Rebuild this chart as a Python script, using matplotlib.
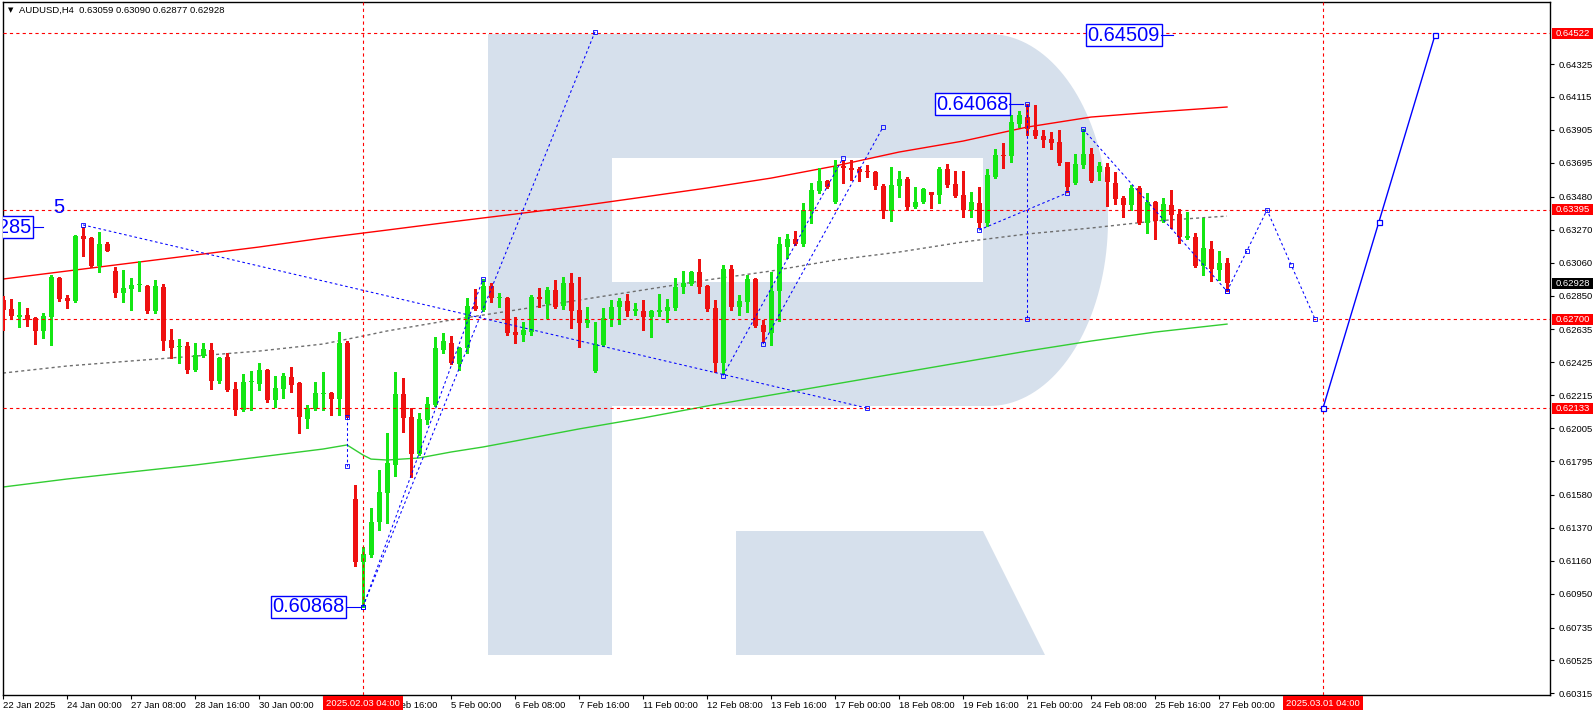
import matplotlib
matplotlib.use("Agg")
import matplotlib.pyplot as plt
import numpy as np
from matplotlib.patches import Rectangle, Polygon
from matplotlib.transforms import IdentityTransform

plt.rcParams['font.family'] = ['Liberation Sans', 'DejaVu Sans']
plt.rcParams['lines.scale_dashes'] = False

# ---------------- data ----------------
symbol = "AUDUSD,H4"
first_bar = -8          # bar index of first candle (24 Jan 00:00 = bar 0)

opens = [0.62821, 0.62764, 0.62713, 0.62726, 0.62706, 0.62624, 0.62713, 0.62961,
         0.62834, 0.62815, 0.63229, 0.63216, 0.63038, 0.63178, 0.63006, 0.62866, 0.62891, 0.62917,
         0.62910, 0.62751, 0.62904, 0.62566, 0.62522, 0.62528, 0.62375, 0.62464, 0.62503, 0.62305,
         0.62458, 0.62254, 0.62121, 0.62299, 0.62286, 0.62375, 0.62184, 0.62254, 0.62331, 0.62293,
         0.62064, 0.62127, 0.62222, 0.62229, 0.62191, 0.62547, 0.61554, 0.61152, 0.61197, 0.61407,
         0.61592, 0.61770, 0.62222, 0.62076, 0.61840, 0.62057, 0.62152, 0.62503, 0.62547, 0.62413,
         0.62515, 0.62783, 0.62757, 0.62910, 0.62834, 0.62834, 0.62617, 0.62598, 0.62617, 0.62840,
         0.62796, 0.62885, 0.62783, 0.62930, 0.62757, 0.62675, 0.62369, 0.62534, 0.62700, 0.62777,
         0.62815, 0.62751, 0.62751, 0.62713, 0.62745, 0.62751, 0.62770, 0.62904, 0.62923, 0.62999,
         0.62910, 0.62770, 0.62420, 0.63019, 0.62777, 0.62808, 0.62955, 0.62662, 0.62611, 0.62879,
         0.63159, 0.63210, 0.63178, 0.63389, 0.63516, 0.63579, 0.63446, 0.63675, 0.63662, 0.63656,
         0.63643, 0.63637, 0.63547, 0.63389, 0.63547, 0.63592, 0.63414, 0.63446, 0.63509, 0.63490,
         0.63656, 0.63560, 0.63490, 0.63395, 0.63439, 0.63312, 0.63605, 0.63745, 0.63739, 0.63942,
         0.63987, 0.63904, 0.63866, 0.63847, 0.63828, 0.63701, 0.63567, 0.63681, 0.63752, 0.63637,
         0.63669, 0.63567, 0.63471, 0.63427, 0.63535, 0.63312, 0.63446, 0.63325, 0.63427, 0.63369,
         0.63216, 0.63223, 0.63038, 0.63146, 0.63012, 0.63059]
highs = [0.62847, 0.62828, 0.62808, 0.62770, 0.62712, 0.62738, 0.62980, 0.62968,
         0.62853, 0.63235, 0.63287, 0.63222, 0.63255, 0.63191, 0.63031, 0.63012, 0.62961, 0.63070,
         0.62915, 0.62949, 0.62923, 0.62636, 0.62573, 0.62554, 0.62547, 0.62547, 0.62547, 0.62458,
         0.62483, 0.62299, 0.62350, 0.62369, 0.62420, 0.62380, 0.62337, 0.62356, 0.62394, 0.62299,
         0.62152, 0.62299, 0.62362, 0.62235, 0.62617, 0.62560, 0.61643, 0.61248, 0.61496, 0.61738,
         0.61974, 0.62362, 0.62324, 0.62133, 0.62102, 0.62203, 0.62585, 0.62611, 0.62592, 0.62520,
         0.62834, 0.62891, 0.62955, 0.62930, 0.62866, 0.62840, 0.62713, 0.62681, 0.62853, 0.62898,
         0.62904, 0.62949, 0.62968, 0.62993, 0.62968, 0.62777, 0.62681, 0.62770, 0.62821, 0.62834,
         0.62860, 0.62802, 0.62821, 0.62757, 0.62860, 0.62828, 0.62961, 0.63006, 0.63005, 0.63082,
         0.62915, 0.62821, 0.63044, 0.63044, 0.62853, 0.62980, 0.62961, 0.62694, 0.62999, 0.63223,
         0.63242, 0.63261, 0.63439, 0.63567, 0.63662, 0.63586, 0.63713, 0.63713, 0.63713, 0.63669,
         0.63681, 0.63643, 0.63560, 0.63669, 0.63643, 0.63605, 0.63541, 0.63535, 0.63509, 0.63669,
         0.63688, 0.63643, 0.63643, 0.63509, 0.63541, 0.63656, 0.63784, 0.63822, 0.63999, 0.64025,
         0.64068, 0.64063, 0.63904, 0.63891, 0.63904, 0.63701, 0.63752, 0.63910, 0.63790, 0.63701,
         0.63694, 0.63637, 0.63484, 0.63554, 0.63547, 0.63503, 0.63452, 0.63471, 0.63522, 0.63401,
         0.63382, 0.63248, 0.63344, 0.63197, 0.63133, 0.63090]
lows = [0.62630, 0.62700, 0.62649, 0.62656, 0.62541, 0.62579, 0.62534, 0.62815,
        0.62770, 0.62810, 0.63102, 0.63031, 0.62999, 0.63133, 0.62840, 0.62808, 0.62757, 0.62879,
        0.62738, 0.62738, 0.62503, 0.62452, 0.62420, 0.62356, 0.62370, 0.62458, 0.62254, 0.62293,
        0.62242, 0.62089, 0.62115, 0.62121, 0.62248, 0.62172, 0.62140, 0.62197, 0.62235, 0.61974,
        0.62006, 0.62121, 0.62121, 0.62089, 0.62089, 0.62076, 0.61127, 0.60868, 0.61184, 0.61356,
        0.61400, 0.61700, 0.61981, 0.61694, 0.61835, 0.62032, 0.62147, 0.62483, 0.62415, 0.62375,
        0.62483, 0.62758, 0.62752, 0.62808, 0.62777, 0.62598, 0.62547, 0.62560, 0.62598, 0.62777,
        0.62706, 0.62770, 0.62764, 0.62643, 0.62522, 0.62649, 0.62362, 0.62529, 0.62656, 0.62668,
        0.62719, 0.62726, 0.62630, 0.62585, 0.62719, 0.62681, 0.62757, 0.62866, 0.62917, 0.62866,
        0.62751, 0.62362, 0.62356, 0.62757, 0.62726, 0.62745, 0.62649, 0.62554, 0.62534, 0.62687,
        0.63089, 0.63172, 0.63165, 0.63312, 0.63503, 0.63535, 0.63440, 0.63567, 0.63586, 0.63579,
        0.63605, 0.63528, 0.63344, 0.63325, 0.63477, 0.63395, 0.63410, 0.63439, 0.63408, 0.63439,
        0.63541, 0.63477, 0.63350, 0.63350, 0.63287, 0.63293, 0.63598, 0.63662, 0.63701, 0.63923,
        0.63872, 0.63853, 0.63796, 0.63784, 0.63681, 0.63509, 0.63562, 0.63662, 0.63575, 0.63586,
        0.63420, 0.63433, 0.63350, 0.63395, 0.63306, 0.63248, 0.63210, 0.63319, 0.63280, 0.63184,
        0.63210, 0.63031, 0.62980, 0.62942, 0.62949, 0.62877]
closes = [0.62757, 0.62719, 0.62726, 0.62700, 0.62624, 0.62719, 0.62968, 0.62828,
          0.62815, 0.63229, 0.63210, 0.63038, 0.63178, 0.63133, 0.62866, 0.62898, 0.62917, 0.62920,
          0.62751, 0.62910, 0.62560, 0.62515, 0.62528, 0.62375, 0.62471, 0.62509, 0.62305, 0.62452,
          0.62248, 0.62121, 0.62299, 0.62302, 0.62375, 0.62184, 0.62261, 0.62337, 0.62280, 0.62076,
          0.62133, 0.62229, 0.62229, 0.62191, 0.62547, 0.62083, 0.61152, 0.61203, 0.61407, 0.61598,
          0.61783, 0.62222, 0.62070, 0.61840, 0.62064, 0.62159, 0.62515, 0.62560, 0.62420, 0.62515,
          0.62783, 0.62764, 0.62910, 0.62834, 0.62837, 0.62611, 0.62598, 0.62630, 0.62840, 0.62828,
          0.62885, 0.62777, 0.62930, 0.62751, 0.62675, 0.62694, 0.62541, 0.62706, 0.62777, 0.62815,
          0.62751, 0.62764, 0.62713, 0.62751, 0.62757, 0.62777, 0.62904, 0.62930, 0.62999, 0.62904,
          0.62764, 0.62420, 0.63019, 0.62777, 0.62815, 0.62955, 0.62656, 0.62617, 0.62879, 0.63178,
          0.63210, 0.63178, 0.63395, 0.63522, 0.63579, 0.63541, 0.63669, 0.63662, 0.63650, 0.63637,
          0.63637, 0.63547, 0.63389, 0.63554, 0.63592, 0.63414, 0.63446, 0.63528, 0.63490, 0.63656,
          0.63554, 0.63484, 0.63395, 0.63446, 0.63312, 0.63618, 0.63745, 0.63739, 0.63955, 0.63999,
          0.63910, 0.63866, 0.63841, 0.63822, 0.63694, 0.63541, 0.63688, 0.63752, 0.63579, 0.63675,
          0.63573, 0.63465, 0.63427, 0.63535, 0.63312, 0.63446, 0.63325, 0.63433, 0.63363, 0.63223,
          0.63229, 0.63038, 0.63153, 0.63019, 0.63057, 0.62928]

ma_red_bars = [-8, 0, 8, 16, 24, 32, 40, 48, 56, 64, 72, 80, 88, 96, 104, 112, 120, 128, 136, 145]
ma_red = [0.62955, 0.63006, 0.63057, 0.63108, 0.63159, 0.63216, 0.63267, 0.63319, 0.63369, 0.63420,
          0.63477, 0.63535, 0.63598, 0.63675, 0.63764, 0.63834, 0.63923, 0.63987, 0.64019, 0.64051]
ma_grey_bars = [-8, 0, 8, 16, 24, 32, 37, 40, 48, 56, 64, 72, 80, 88, 96, 104, 112, 120, 128, 136, 145]
ma_grey = [0.62356, 0.62401, 0.62433, 0.62464, 0.62496, 0.62541, 0.62592, 0.62624, 0.62694, 0.62757,
           0.62821, 0.62885, 0.62949, 0.63006, 0.63076, 0.63127, 0.63191, 0.63242, 0.63280, 0.63325, 0.63356]
ma_green_bars = [-8, 0, 8, 16, 24, 32, 35, 36, 37, 38, 40, 44, 48, 52, 56, 64, 72, 80, 88, 96,
                 104, 112, 120, 128, 136, 145]
ma_green = [0.61630, 0.61681, 0.61726, 0.61770, 0.61821, 0.61872, 0.61898, 0.61866, 0.61834, 0.61808,
            0.61802, 0.61815, 0.61853, 0.61885, 0.61923, 0.62000, 0.62070, 0.62146, 0.62216, 0.62286,
            0.62356, 0.62426, 0.62496, 0.62560, 0.62617, 0.62668]

levels = [0.64522, 0.63395, 0.62700, 0.62133]
y_ticks = [0.64325, 0.64115, 0.63905, 0.63695, 0.63480, 0.63270, 0.63060, 0.62850, 0.62635,
           0.62425, 0.62215, 0.62005, 0.61795, 0.61580, 0.61370, 0.61160, 0.60950, 0.60735,
           0.60525, 0.60315]
x_tick_bars = [-8, 0, 8, 16, 24, 32, 40, 48, 56, 64, 72, 80, 88, 96, 104, 112, 120, 128, 136, 144]
x_tick_labels = ["22 Jan 2025", "24 Jan 00:00", "27 Jan 08:00", "28 Jan 16:00", "30 Jan 00:00",
                 "31 Jan 08:00", "3 Feb 16:00", "5 Feb 00:00", "6 Feb 08:00", "7 Feb 16:00",
                 "11 Feb 00:00", "12 Feb 08:00", "13 Feb 16:00", "17 Feb 00:00", "18 Feb 08:00",
                 "19 Feb 16:00", "21 Feb 00:00", "24 Feb 08:00", "25 Feb 16:00", "27 Feb 00:00"]
vline_bars = [37, 157]
vline_labels = ["2025.02.03 04:00", "2025.03.01 04:00"]

# analyst drawings: (bar, price) pairs
dotted_lines = [
    ([2, 100], [0.63300, 0.62133]),
    ([37, 66], [0.60868, 0.64530]),
    ([37, 52], [0.60868, 0.62955]),
    ([82, 97], [0.62340, 0.63726]),
    ([87, 102], [0.62541, 0.63923]),
    ([114, 125], [0.63267, 0.63503]),
    ([120, 120], [0.64068, 0.62700]),
    ([127, 145], [0.63910, 0.62877]),
    ([35, 35], [0.62076, 0.61764]),
]
forecast_dotted_bars = [145, 150, 156]
forecast_dotted = [0.62877, 0.63395, 0.62700]
forecast_solid_bars = [157, 171]
forecast_solid = [0.62133, 0.64509]

# ---------------- layout ----------------
W, H = 1596, 716
L, R, T, B = 3, 1550, 2, 695
BAR0_PX, BAR_PX = 67, 8
fig = plt.figure(figsize=(W / 100, H / 100), dpi=100, facecolor='white')
ax = fig.add_axes([L / W, (H - B) / H, (R - L) / W, (B - T) / H])
ax.set_xlim((L - BAR0_PX) / BAR_PX, (R - BAR0_PX) / BAR_PX)
ax.set_ylim(0.60305, 0.64720)
ax.set_facecolor('white')
for s in ax.spines.values():
    s.set_color('black')
    s.set_linewidth(1.0)

def pxa(x, y):
    return ((x - L) / (R - L), (B - y) / (B - T))

# watermark logo
logo_col = '#d6e0ec'
t = np.linspace(np.pi / 2, -np.pi / 2, 80)
arc = [(989 + 119 * np.cos(a), 220 - 186 * np.sin(a)) for a in t]
outer = [(488, 34), (989, 34)] + arc + [(612, 406), (612, 655), (488, 655)]
ax.add_patch(Polygon([pxa(*p) for p in outer], closed=True, transform=ax.transAxes,
                     fc=logo_col, ec='none', zorder=0.1))
hole = [(612, 158), (983, 158), (983, 282), (612, 282)]
ax.add_patch(Polygon([pxa(*p) for p in hole], closed=True, transform=ax.transAxes,
                     fc='white', ec='none', zorder=0.2))
leg = [(736, 531), (983, 531), (1045, 655), (736, 655)]
ax.add_patch(Polygon([pxa(*p) for p in leg], closed=True, transform=ax.transAxes,
                     fc=logo_col, ec='none', zorder=0.1))

# moving averages
ax.plot(ma_green_bars, ma_green, color='#32cd32', lw=1.0, zorder=2)
ax.plot(ma_red_bars, ma_red, color='#ff0000', lw=1.0, zorder=2)
ax.plot(ma_grey_bars, ma_grey, color='#6e6e6e', lw=1.0, ls=(0, (2.2, 2.2)), zorder=2)

# candles
bars = np.arange(first_bar, first_bar + len(opens))
o = np.array(opens); h = np.array(highs); l = np.array(lows); c = np.array(closes)
bull = c >= o
col = np.where(bull, '#14e614', '#ee1111')
ax.vlines(bars, l, h, colors=col, lw=0.8, zorder=3, antialiased=False)
body_h = np.maximum(np.abs(c - o), 0.00007)
ax.bar(bars, body_h, bottom=np.minimum(o, c), width=0.625, color=col, lw=0,
       zorder=3.1, antialiased=False)

# horizontal levels and vertical time lines
red_dash = (0, (2.3, 2.3))
for lv in levels:
    ax.axhline(lv, color='#ff0000', lw=0.8, ls=red_dash, zorder=4)
for vb in vline_bars:
    ax.axvline(vb, color='#ff0000', lw=0.8, ls=red_dash, zorder=4)

# analyst blue drawings
blue = '#0000ff'
dot = (0, (1.9, 1.9))
for xs, ys in dotted_lines:
    ax.plot(xs, ys, color=blue, lw=0.75, ls=dot, zorder=5)
    ax.plot(xs, ys, ls='none', marker='s', ms=2.2, mfc='none', mec=blue, mew=0.6, zorder=5)
ax.plot(forecast_dotted_bars, forecast_dotted, color=blue, lw=0.75, ls=dot, zorder=5)
mid_b = [(forecast_dotted_bars[i] + forecast_dotted_bars[i + 1]) / 2 for i in range(2)]
mid_p = [(forecast_dotted[i] + forecast_dotted[i + 1]) / 2 for i in range(2)]
ax.plot(forecast_dotted_bars + mid_b, forecast_dotted + mid_p, ls='none', marker='s', ms=2.2,
        mfc='none', mec=blue, mew=0.6, zorder=5)
ax.plot(forecast_solid_bars, forecast_solid, color=blue, lw=1.0, zorder=5)
sb = forecast_solid_bars + [sum(forecast_solid_bars) / 2]
sp = forecast_solid + [sum(forecast_solid) / 2]
ax.plot(sb, sp, ls='none', marker='s', ms=3.6, mfc='white', mec=blue, mew=0.9, zorder=6)

# price call-out labels
def callout(text, bar, price, stub, ha='center'):
    ax.text(bar, price, text, fontsize=14.4, color=blue, ha=ha, va='center', zorder=7,
            clip_on=True,
            bbox=dict(boxstyle='square,pad=0.08', fc='white', ec=blue, lw=1.0))
    ax.plot(stub, [price, price], color=blue, lw=0.8, zorder=7)

callout(f"{forecast_solid[-1]:.5f}", 132.1, forecast_solid[-1], [136.8, 138.3])
callout(f"{highs[120 - first_bar]:.5f}", 113.2, highs[120 - first_bar], [117.8, 119.5])
callout(f"{lows[37 - first_bar]:.5f}", 30.2, lows[37 - first_bar], [35.0, 36.8])
callout("0.63285", -4.4, 0.63285, [-4.3, -3.0], ha='right')
ax.text(-1.0, 0.63413, "5", fontsize=14.4, color=blue, ha='center', va='center', zorder=7)

# axes ticks
ax.yaxis.tick_right()
ax.set_yticks(y_ticks)
ax.set_yticklabels([f"{v:.5f}" for v in y_ticks])
ax.tick_params(axis='y', direction='out', length=3, width=0.8, pad=3, labelsize=6.8, colors='black')
ax.set_xticks(x_tick_bars)
ax.set_xticklabels(x_tick_labels, ha='left')
ax.tick_params(axis='x', direction='out', length=3, width=0.8, pad=1.5, labelsize=6.8)

# right-side level tags
def ypix(v):
    return ax.transData.transform((0, v))[1]

def xpix(b):
    return ax.transData.transform((b, 0))[0]

for lv in levels + [closes[-1]]:
    fc = 'black' if lv == closes[-1] else '#ff0000'
    yp = ypix(lv)
    fig.add_artist(Rectangle((R + 2, yp - 5.5), 41, 11, transform=IdentityTransform(),
                             fc=fc, ec='none', zorder=8))
    fig.text((R + 6) / W, yp / H, f"{lv:.5f}", color='white', fontsize=6.8,
             ha='left', va='center', zorder=9)

for vb, lab in zip(vline_bars, vline_labels):
    xp = xpix(vb)
    fig.add_artist(Rectangle((xp - 40, H - 710), 80, 14, transform=IdentityTransform(),
                             fc='#ff0000', ec='none', zorder=8))
    fig.text(xp / W, (H - 703) / H, lab, color='white', fontsize=6.8,
             ha='center', va='center', zorder=9)

# title
fig.text(8 / W, 1 - 10 / H, "\u25bc", fontsize=5, ha='left', va='center', family='DejaVu Sans')
fig.text(19 / W, 1 - 10 / H,
         f"{symbol}  {opens[-1]:.5f} {highs[-1]:.5f} {lows[-1]:.5f} {closes[-1]:.5f}",
         fontsize=6.8, ha='left', va='center')

fig.savefig("out.png", dpi=100, facecolor='white')
